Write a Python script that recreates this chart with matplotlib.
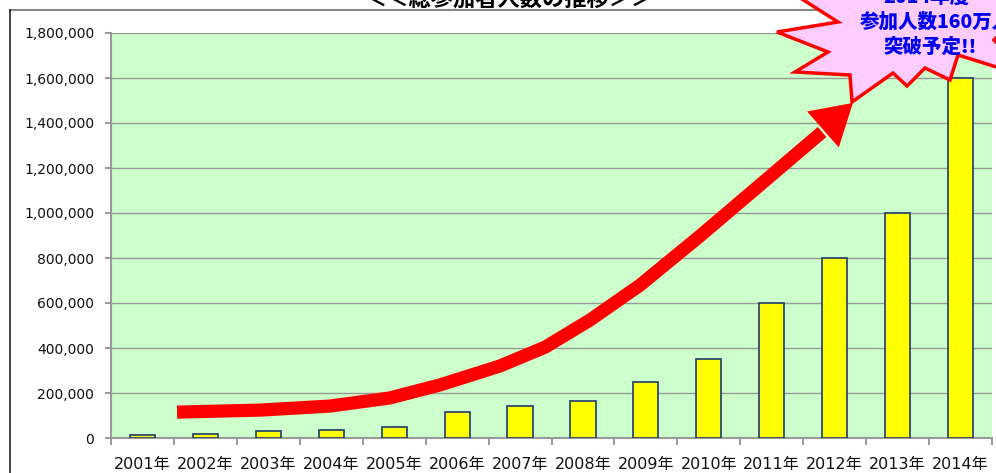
import numpy as np
import matplotlib.pyplot as plt
from matplotlib.patches import Polygon
from matplotlib.lines import Line2D

years = ['2001年', '2002年', '2003年', '2004年', '2005年', '2006年', '2007年',
         '2008年', '2009年', '2010年', '2011年', '2012年', '2013年', '2014年']
participants = [12000, 18000, 30000, 34000, 50000, 115000, 142000,
                165000, 250000, 350000, 600000, 800000, 1000000, 1600000]

# trend arrow (category index, value)
trend_x = [0.55, 1.87, 2.98, 3.93, 4.73, 5.68, 6.40, 7.11, 7.91, 8.86, 9.81, 10.80]
trend_y = [115000, 124000, 142000, 178000, 236000, 320000, 404000, 524000,
           680000, 898000, 1124000, 1360000]
trend_tip = (11.29, 1489000)

title = '＜＜総参加者人数の推移＞＞'
callout = ['2014年度', '参加人数160万人', '突破予定!!']

W, H = 996, 473
fig = plt.figure(figsize=(W / 100, H / 100), dpi=100)
ax = fig.add_axes([111 / W, 35 / H, 881 / W, 405 / H])
ax.set_facecolor('#CCFFCC')

x = list(range(len(years)))
ax.bar(x, participants, width=0.4, color='#FFFF00', edgecolor='#1F3A6E', linewidth=1.2, zorder=3)

ax.set_xlim(-0.5, len(years) - 0.5)
ax.set_ylim(0, 1800000)
ax.set_yticks(range(0, 1800001, 200000))
ax.set_yticklabels([f'{v:,}' for v in range(0, 1800001, 200000)], fontsize=10,
                   family='DejaVu Sans', color='#111111')
ax.grid(axis='y', color='#999999', linewidth=1, zorder=1)
ax.set_axisbelow(True)

ax.set_xticks(x)
ax.set_xticklabels(years, fontsize=11.5, family=['DejaVu Sans', 'Noto Sans CJK JP'], color='#111111')
ax.set_xticks([i - 0.5 for i in range(len(years) + 1)], minor=True)
ax.tick_params(axis='x', which='major', length=0, pad=14)
ax.tick_params(axis='x', which='minor', length=5, color='#888888', width=1.2)
ax.tick_params(axis='y', length=4, color='#888888', width=1.2, pad=8)

for s in ['top', 'right']:
    ax.spines[s].set_visible(False)
for s in ['left', 'bottom']:
    ax.spines[s].set_color('#999999')
    ax.spines[s].set_linewidth(1.5)

# red trend arrow
ax.plot(trend_x, trend_y, color='#FF0000', linewidth=9.5, solid_capstyle='butt',
        solid_joinstyle='round', zorder=5)
p0 = ax.transData.transform((trend_x[-2], trend_y[-2]))
tip = ax.transData.transform(trend_tip)
u = (tip - p0) / np.hypot(*(tip - p0))
n = np.array([-u[1], u[0]])
base = tip - u * 40
head = [tip, base + n * 24, base - n * 24]
fig.add_artist(Polygon(head, closed=True, transform=None, facecolor='#FF0000',
                       edgecolor='none', zorder=6))

# outer chart frame
fig.add_artist(Line2D([10 / W, 1], [1 - 10 / H, 1 - 10 / H], transform=fig.transFigure,
                      color='#888888', linewidth=1.5))
fig.add_artist(Line2D([10 / W, 10 / W], [0, 1 - 10 / H], transform=fig.transFigure,
                      color='#222222', linewidth=1.2))

fig.text(509 / W, 1 - 6 / H, title, ha='center', va='baseline', fontsize=16,
         fontweight='bold', family=['Noto Sans CJK JP', 'DejaVu Sans'])

# starburst callout
star = [(794, -6), (838, 22), (777, 32), (828, 52), (795, 72), (850, 75), (852, 102),
        (893, 73), (907, 86), (925, 68), (950, 80), (958, 55), (1006, 70), (1006, 52),
        (994, 40), (1006, 28), (1006, -20), (794, -20)]
star_pts = [(px / W, 1 - py / H) for px, py in star]
fig.add_artist(Polygon(star_pts, closed=True, transform=fig.transFigure, facecolor='#FFCCFF',
                       edgecolor='#FF0000', linewidth=2.5, joinstyle='miter', zorder=10))
for txt, px, py in zip(callout, [926, 936, 930], [-3, 22, 47]):
    fig.text(px / W, 1 - py / H, txt, ha='center', va='center', fontsize=14, fontweight='black',
             color='#0000EE', family=['Noto Sans CJK JP', 'DejaVu Sans'], zorder=11)

fig.savefig('out.png', dpi=100)
